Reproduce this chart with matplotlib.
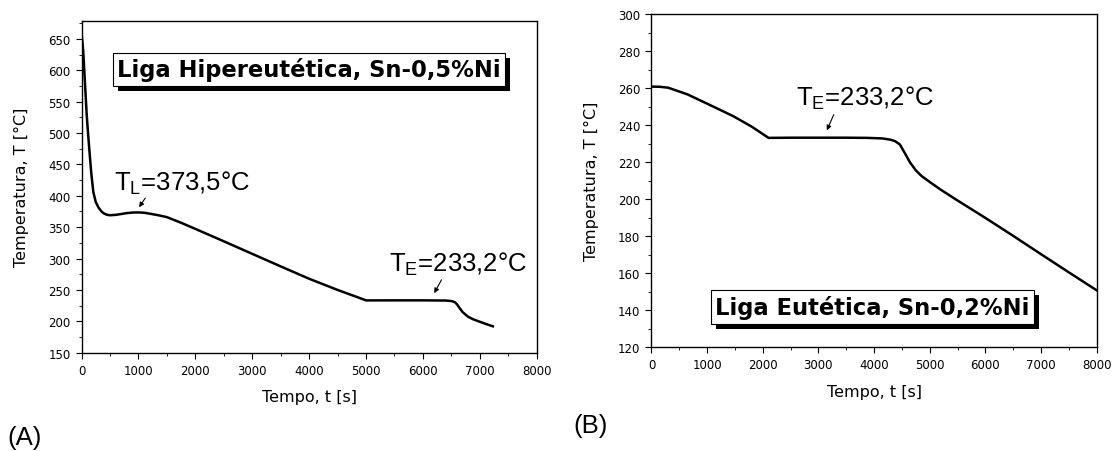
import matplotlib
matplotlib.use('Agg')
import matplotlib.pyplot as plt
import matplotlib.patheffects as pe
from matplotlib.ticker import MultipleLocator

# (A) liga hipereutética Sn-0,5%Ni
tempo_a = [0, 30, 60, 90, 113, 140, 170, 207, 250, 300, 350, 400, 450, 500,
           600, 700, 800, 900, 1000, 1100, 1200, 1350, 1500, 1750, 1994, 2500,
           2997, 3500, 4000, 4500, 5003, 5500, 6000, 6400, 6500, 6560, 6600,
           6633, 6700, 6790, 6880, 6978, 7100, 7229]
temp_a = [660, 630, 580, 530, 501, 470, 437, 406, 390, 381, 375, 371.5, 369.7, 369,
          369.6, 371, 372.5, 373.3, 373.5, 373, 371.5, 369, 366, 357, 347.5, 327.5,
          307.6, 287.5, 267.8, 250, 233.3, 233.4, 233.4, 233.1, 232.3, 230.5, 227,
          222.5, 214.5, 207.5, 203.3, 200, 196, 192]

# (B) liga eutética Sn-0,2%Ni
tempo_b = [0, 150, 300, 647, 1027, 1471, 1800, 2105, 2500, 3000, 3500, 3880,
           4150, 4300, 4380, 4465, 4560, 4645, 4750, 4850, 5000, 5200, 5500,
           6000, 6500, 7000, 7500, 8000]
temp_b = [260.8, 260.7, 260.2, 256.6, 251.2, 244.8, 239.2, 233.1, 233.2, 233.2,
          233.2, 233.1, 232.8, 232.1, 231.3, 229.5, 224.5, 219.9, 215.6, 212.6,
          209.3, 205.1, 199.3, 189.9, 180.2, 170.3, 160.5, 150.8]

fig = plt.figure(figsize=(11.14, 4.52), dpi=100)
ax1 = fig.add_axes([0.0732, 0.2175, 0.4086, 0.7345])
ax2 = fig.add_axes([0.5848, 0.2294, 0.3996, 0.7374])


def estilo(ax, ymin, ymax, ymaj, ymin_step):
    ax.set_xlim(0, 8000)
    ax.set_ylim(ymin, ymax)
    ax.xaxis.set_major_locator(MultipleLocator(1000))
    ax.xaxis.set_minor_locator(MultipleLocator(500))
    ax.yaxis.set_major_locator(MultipleLocator(ymaj))
    ax.yaxis.set_minor_locator(MultipleLocator(ymin_step))
    ax.tick_params(which='both', direction='out', top=False, right=False, labelsize=8.5)
    ax.tick_params(which='major', length=4.5)
    ax.tick_params(which='minor', length=2.5)
    ax.set_xlabel('Tempo, t [s]', fontsize=11.5, labelpad=9)
    ax.set_ylabel('Temperatura, T [°C]', fontsize=11.5, labelpad=14)
    for s in ax.spines.values():
        s.set_linewidth(1.0)


def caixa(ax, x, y, texto):
    t = ax.text(x, y, texto, transform=ax.transAxes, fontsize=16.3, fontweight='bold',
                ha='center', va='center',
                bbox=dict(boxstyle='square,pad=0.2', fc='white', ec='black', lw=0.8))
    t.get_bbox_patch().set_path_effects([
        pe.SimplePatchShadow(offset=(3.6, -3.6), shadow_rgbFace='black', alpha=1.0),
        pe.Normal()])


ax1.plot(tempo_a, temp_a, color='black', lw=1.8)
estilo(ax1, 150, 679, 50, 25)
ax1.set_yticks(list(range(150, 651, 50)))
caixa(ax1, 0.50, 0.853, 'Liga Hipereutética, Sn-0,5%Ni')
ax1.text(0.0713, 0.493, r'T$_\mathregular{L}$=373,5°C', transform=ax1.transAxes,
         fontsize=18.5, family='Liberation Sans')
ax1.annotate('', xy=(984, 378), xytext=(1147, 400),
             arrowprops=dict(arrowstyle='-|>', color='black', lw=0.8, mutation_scale=7))
ax1.text(0.676, 0.247, r'T$_\mathregular{E}$=233,2°C', transform=ax1.transAxes,
         fontsize=18.5, family='Liberation Sans')
ax1.annotate('', xy=(6175, 241), xytext=(6350, 270),
             arrowprops=dict(arrowstyle='-|>', color='black', lw=0.8, mutation_scale=7))

ax2.plot(tempo_b, temp_b, color='black', lw=1.8)
estilo(ax2, 120, 300, 20, 10)
caixa(ax2, 0.496, 0.121, 'Liga Eutética, Sn-0,2%Ni')
ax2.text(0.325, 0.727, r'T$_\mathregular{E}$=233,2°C', transform=ax2.transAxes,
         fontsize=18.5, family='Liberation Sans')
ax2.annotate('', xy=(3132, 235.8), xytext=(3296, 247),
             arrowprops=dict(arrowstyle='-|>', color='black', lw=0.8, mutation_scale=7))

fig.text(0.007, 0.016, '(A)', fontsize=18.5, family='Liberation Sans')
fig.text(0.515, 0.042, '(B)', fontsize=18.5, family='Liberation Sans')

fig.savefig('out.png', dpi=100)
